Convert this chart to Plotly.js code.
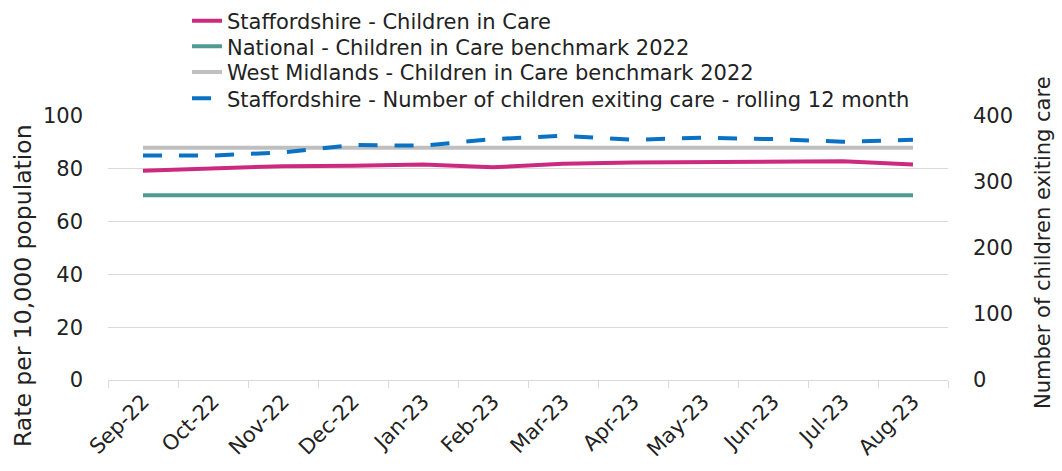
<!DOCTYPE html>
<html><head><meta charset="utf-8">
<script src="https://cdn.plot.ly/plotly-3.0.1.min.js"></script>
<style>html,body{margin:0;padding:0;background:#fff}#c{width:1062px;height:471px}</style>
</head><body><div id="c"></div>
<script>
const months = ["Sep-22","Oct-22","Nov-22","Dec-22","Jan-23","Feb-23","Mar-23","Apr-23","May-23","Jun-23","Jul-23","Aug-23"];
const staffsCIC = [79.3,80.3,81.0,81.2,81.6,80.6,81.9,82.4,82.6,82.9,82.9,81.6];
const nationalCIC = [70,70,70,70,70,70,70,70,70,70,70,70];
const westMidCIC = [88,88,88,88,88,88,88,88,88,88,88,88];
const exiting = [340,340,345,356,355,365,370,364,367,365,361,364];
const seriesNames = ["Staffordshire - Children in Care","National - Children in Care benchmark 2022","West Midlands - Children in Care benchmark 2022","Staffordshire - Number of children exiting care - rolling 12 month"];
const leftTitle = "Rate per 10,000 population";
const rightTitle = "Number of children exiting care";

const F = "DejaVu Sans, Verdana, sans-serif";
const W = 1062, H = 471, ML = 108, MR = 114, MT = 116, MB = 91;
const PW = W-ML-MR, PH = H-MT-MB;
const px2x = p => (p-ML)/PW;
const py2y = p => (H-MB-p)/PH;

const traces = [
 {x:months,y:staffsCIC,name:seriesNames[0],legend:"legend",type:"scatter",mode:"lines",line:{color:"#cc2a7f",width:4}},
 {x:months,y:nationalCIC,name:seriesNames[1],legend:"legend2",type:"scatter",mode:"lines",line:{color:"#4f9a92",width:4}},
 {x:months,y:westMidCIC,name:seriesNames[2],legend:"legend3",type:"scatter",mode:"lines",line:{color:"#bfbfbf",width:4}},
 {x:months,y:exiting,name:seriesNames[3],legend:"legend4",type:"scatter",mode:"lines",yaxis:"y2",line:{color:"#0a72c4",width:4,dash:"19px,17px"}}
];
const legRows = [21,46.7,72.3,98.7];
const legBase = {x:px2x(187),xanchor:"left",yanchor:"middle",font:{size:21,family:F,color:"#222"},bgcolor:"rgba(0,0,0,0)",borderwidth:0};
const layout = {
 width:W,height:H,
 margin:{l:ML,r:MR,t:MT,b:MB,autoexpand:false},
 paper_bgcolor:"#fff",plot_bgcolor:"#fff",
 font:{family:F,color:"#222",size:20},
 showlegend:true,
 legend:Object.assign({},legBase,{y:py2y(legRows[0])}),
 legend2:Object.assign({},legBase,{y:py2y(legRows[1])}),
 legend3:Object.assign({},legBase,{y:py2y(legRows[2])}),
 legend4:Object.assign({},legBase,{y:py2y(legRows[3])}),
 xaxis:{type:"category",tickangle:-45,tickson:"boundaries",ticks:"outside",ticklen:7,tickcolor:"#d9d9d9",showline:true,linecolor:"#d9d9d9",linewidth:1,showgrid:false,zeroline:false,tickfont:{size:21,family:F},range:[-0.5,11.5]},
 yaxis:{range:[0,100],dtick:20,showgrid:true,gridcolor:"#d9d9d9",gridwidth:1,zeroline:false,showline:false,tickfont:{size:21,family:F},ticks:"",ticklabelstandoff:24},
 yaxis2:{range:[0,400],dtick:100,overlaying:"y",side:"right",showgrid:false,zeroline:false,showline:false,tickfont:{size:21,family:F},ticklabelstandoff:24},
 annotations:[
  {text:leftTitle,textangle:-90,xref:"paper",yref:"paper",x:px2x(23),y:py2y(286),xanchor:"center",yanchor:"middle",showarrow:false,font:{size:23.5,family:F,color:"#222"}},
  {text:rightTitle,textangle:-90,xref:"paper",yref:"paper",x:px2x(1043),y:py2y(243),xanchor:"center",yanchor:"middle",showarrow:false,font:{size:21,family:F,color:"#222"}}
 ]
};
Plotly.newPlot("c",traces,layout,{displayModeBar:false,staticPlot:true});
</script>
</body></html>
